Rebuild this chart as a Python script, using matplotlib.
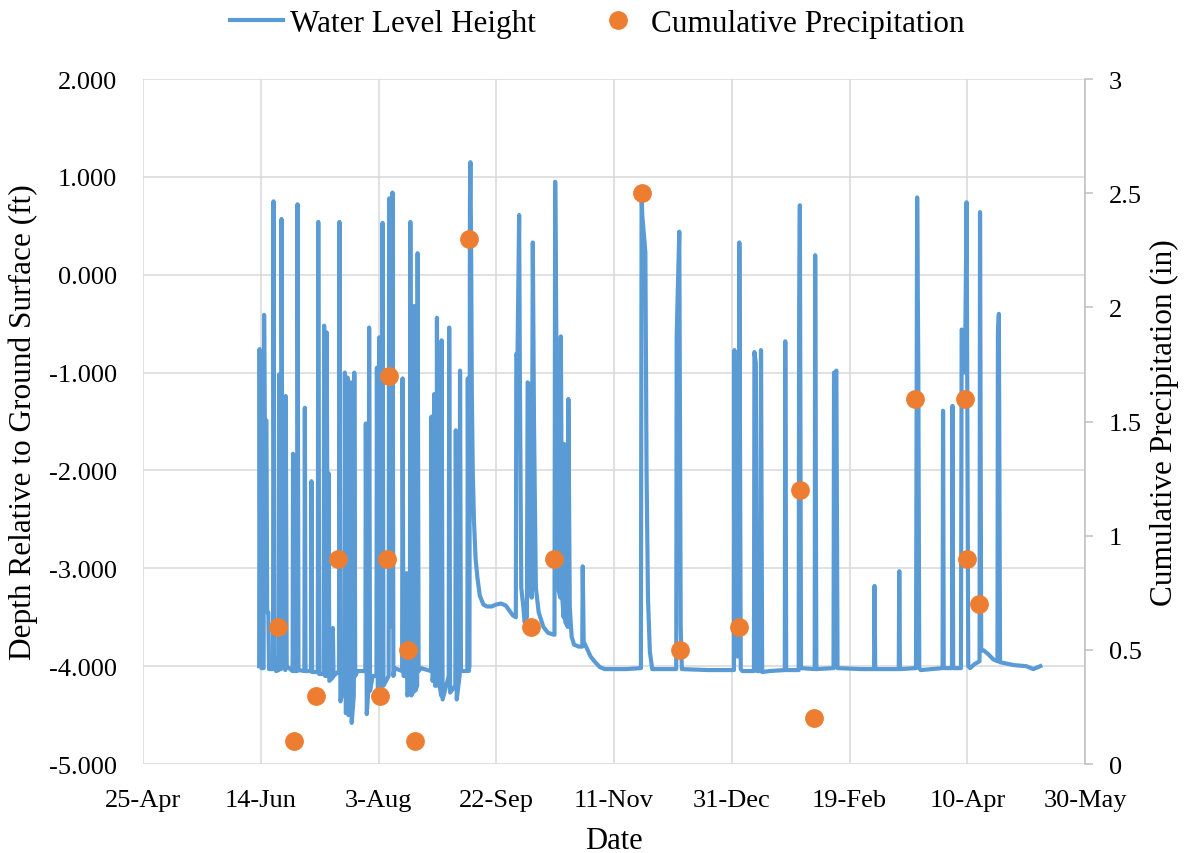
import numpy as np
import matplotlib
matplotlib.use('Agg')
import matplotlib.pyplot as plt
from matplotlib.lines import Line2D

plt.rcParams['font.family'] = ['Liberation Serif', 'DejaVu Serif']
plt.rcParams['axes.unicode_minus'] = False

# days counted from 25-Apr
tick_days = [0, 50, 100, 150, 200, 250, 300, 350, 400]
tick_labels = ['25-Apr', '14-Jun', '3-Aug', '22-Sep', '11-Nov', '31-Dec', '19-Feb', '10-Apr', '30-May']

# water level (ft relative to ground surface)
wl_day = [49.3, 49.5, 49.8, 50.3, 51.2, 51.4, 51.7, 52.4, 52.7, 53.2, 53.5, 55.2, 55.4, 55.8, 56.5,
          57.6, 57.8, 58.2, 58.6, 58.8, 59.3, 60.4, 60.6, 61.0, 63.5, 63.7, 64.0, 65.4, 65.6, 66.0,
          68.5, 68.7, 69.0, 71.3, 71.5, 71.8, 74.2, 74.4, 74.8, 76.7, 76.9, 77.3, 77.8, 78.0, 78.4,
          78.8, 79.1, 80.4, 80.6, 80.9, 83.2, 83.4, 83.8, 85.5, 85.7, 86.1, 86.6, 86.8, 87.2, 88.0,
          88.2, 88.6, 89.5, 89.7, 90.1, 91.0, 94.4, 94.6, 95.0, 95.8, 96.0, 96.4, 97.5, 99.1, 99.3,
          99.7, 100.1, 100.3, 100.7, 101.5, 101.7, 102.1, 104.3, 104.5, 104.9, 105.7, 105.9, 106.3, 106.8,
          110.0, 110.2, 110.6, 111.7, 111.9, 112.2, 113.3, 113.5, 113.9, 115.0, 115.2, 115.6, 116.4, 116.6,
          117.0, 118.0, 122.3, 122.5, 122.9, 123.4, 123.6, 124.0, 124.6, 124.8, 125.3, 126.6, 126.8, 127.2,
          129.8, 130.0, 130.4, 132.6, 132.8, 133.2, 134.4, 134.6, 135.0, 137.7, 137.9, 138.3, 138.6, 138.8,
          139.0, 139.3, 139.6, 140.0, 140.5, 141.2, 142.0, 143.0, 144.5, 146.0, 148.0, 150.0, 152.0, 154.0,
          155.5, 157.0, 158.3, 158.5, 159.0, 159.7, 160.0, 160.6, 161.5, 162.0, 163.0, 163.3, 164.0, 164.5,
          165.0, 165.5, 166.0, 166.8, 168.0, 170.0, 172.0, 174.7, 175.0, 175.5, 176.2, 177.2, 177.4, 178.0,
          178.6, 178.8, 179.3, 180.4, 180.6, 181.2, 182.0, 183.0, 185.0, 186.5, 186.7, 187.1, 188.5, 190.0,
          192.0, 194.0, 196.0, 205.0, 211.4, 211.7, 212.0, 213.3, 213.8, 214.4, 215.2, 216.2, 226.4, 226.6,
          227.0, 227.7, 228.3, 228.8, 240.0, 250.9, 251.1, 251.6, 253.0, 253.2, 253.8, 254.5, 259.4, 259.6,
          260.2, 260.8, 262.2, 262.4, 262.9, 266.0, 272.5, 272.7, 273.1, 278.4, 278.6, 278.9, 279.4, 285.2,
          285.4, 285.9, 293.2, 293.4, 294.0, 294.4, 294.9, 305.0, 310.4, 310.6, 310.9, 320.9, 321.1, 321.4,
          328.2, 328.5, 328.7, 329.2, 329.6, 330.2, 339.5, 339.7, 340.0, 343.5, 343.7, 344.0, 347.3, 347.6,
          348.4, 349.0, 349.7, 350.4, 351.2, 353.0, 355.2, 355.4, 355.9, 357.0, 359.0, 361.0, 362.8, 363.0,
          363.4, 363.9, 366.0, 370.0, 375.0, 378.0, 381.0]
wl_ft = [-4.00, -0.76, -3.90, -4.02, -4.02, -0.41, -1.50, -1.49, -3.45, -3.45, -4.03, -4.03, 0.75, -3.90, -4.05,
         -4.04, -1.02, -4.00, -4.03, 0.57, -3.90, -4.04, -1.24, -4.00, -4.05, -1.83, -4.05, -4.05, 0.72, -4.04,
         -4.05, -1.36, -4.05, -4.05, -2.11, -4.06, -4.06, 0.54, -4.08, -4.08, -0.52, -4.10, -4.10, -0.59, -3.50,
         -2.03, -4.15, -4.12, -3.61, -4.10, -4.05, 0.54, -4.36, -4.20, -1.00, -4.48, -4.40, -1.05, -4.50, -4.40,
         -1.10, -4.58, -4.30, -1.00, -4.10, -4.05, -4.05, -1.52, -4.49, -4.20, -0.54, -4.25, -4.10, -4.10, -0.95,
         -4.36, -4.30, -0.64, -4.30, -4.10, 0.53, -4.20, -4.10, 0.78, -3.50, -3.60, 0.84, -4.10, -4.02,
         -4.05, -1.06, -4.10, -4.10, -3.05, -4.30, -4.20, 0.54, -4.30, -4.25, -0.32, -4.25, -4.20, 0.22,
         -4.05, -4.02, -4.05, -1.45, -4.15, -4.10, -1.22, -4.20, -4.20, -0.44, -4.10, -4.30, -0.67, -4.34,
         -4.10, -0.54, -4.27, -4.20, -1.59, -4.34, -4.10, -0.98, -4.05, -4.05, -1.06, -4.05, -4.00, 0.73,
         1.15, 0.30, -1.20, -2.00, -2.50, -2.90, -3.10, -3.28, -3.37, -3.39, -3.39, -3.37, -3.36, -3.38,
         -3.43, -3.48, -3.50, -0.81, -0.85, 0.61, -1.00, -3.20, -3.40, -3.55, -3.50, -1.10, -1.12, -3.00,
         -3.30, 0.33, -1.50, -3.20, -3.45, -3.60, -3.66, -3.68, 0.95, -0.67, -3.20, -3.30, -0.63, -3.30,
         -3.50, -1.73, -3.55, -3.60, -1.27, -3.40, -3.70, -3.78, -3.80, -3.80, -2.98, -3.75, -3.82, -3.90,
         -3.96, -4.01, -4.03, -4.03, -4.02, 0.84, 0.60, 0.23, -2.00, -3.30, -3.85, -4.03, -4.03, -0.63,
         -0.22, 0.44, -3.60, -4.03, -4.04, -4.04, -0.77, -3.90, -3.90, 0.33, -4.03, -4.05, -4.05, -0.79,
         -0.90, -4.05, -4.05, -0.77, -4.06, -4.05, -4.04, -0.68, -4.04, -4.04, -0.30, 0.71, -4.02, -4.03,
         0.20, -4.03, -4.02, -1.00, -1.02, -0.98, -4.02, -4.03, -4.03, -3.18, -4.03, -4.03, -3.03, -4.03,
         -4.02, -0.98, 0.79, -0.98, -4.02, -4.04, -4.02, -1.39, -4.02, -4.02, -1.34, -4.02, -4.02, -0.56,
         -0.60, -1.00, 0.74, -4.00, -4.02, -3.98, -3.95, 0.64, -3.84, -3.84, -3.88, -3.93, -3.95, -0.61,
         -0.40, -3.96, -3.97, -3.99, -4.00, -4.03, -4.00]

# cumulative precipitation (in)
pr_day = [57.3, 64.1, 73.5, 82.8, 100.6, 103.6, 104.5, 112.5, 115.5, 138.4, 164.8, 174.5,
          211.9, 228.0, 253.1, 279.0, 284.9, 327.8, 349.0, 349.9, 355.0]
pr_in = [0.6, 0.1, 0.3, 0.9, 0.3, 0.9, 1.7, 0.5, 0.1, 2.3, 0.6, 0.9,
         2.5, 0.5, 0.6, 1.2, 0.2, 1.6, 1.6, 0.9, 0.7]

left_ticks = [2, 1, 0, -1, -2, -3, -4, -5]
right_ticks = [0, 0.5, 1, 1.5, 2, 2.5, 3]

blue = '#5B9BD5'
orange = '#ED7D31'
grid = '#D9D9D9'

fig = plt.figure(figsize=(11.95, 8.54), dpi=100)
ax = fig.add_axes([0.1197, 0.1042, 0.7883, 0.8021])
ax2 = ax.twinx()

ax.set_xlim(0, 400)
ax.set_ylim(-5, 2)
ax2.set_ylim(0, 3)

ax.set_xticks(tick_days)
ax.set_xticklabels(tick_labels)
ax.set_yticks(left_ticks)
ax.set_yticklabels(['%.3f' % v for v in left_ticks])
ax2.set_yticks(right_ticks)
ax2.set_yticklabels(['%g' % v for v in right_ticks])

ax.grid(True, color=grid, linewidth=1.1)
ax.set_axisbelow(True)
for s in ['left', 'top', 'bottom', 'right']:
    ax.spines[s].set_visible(False)
for s in ['left', 'top', 'bottom']:
    ax2.spines[s].set_visible(False)
ax2.spines['right'].set_color('#BFBFBF')
ax2.spines['right'].set_linewidth(1.1)

ax.tick_params(axis='x', length=0, pad=18, labelsize=19)
ax.tick_params(axis='y', length=0, pad=19, labelsize=19)
ax2.tick_params(axis='y', length=6, width=1.1, color='#BFBFBF', pad=11, labelsize=19)

ax.plot(wl_day, wl_ft, color=blue, linewidth=3.0, zorder=2)
ax2.plot(pr_day, pr_in, 'o', color=orange, markersize=12.5, zorder=3)

ax.set_xlabel('Date', fontsize=22)
ax.xaxis.set_label_coords(0.5, -0.09)
ax.set_ylabel('Depth Relative to Ground Surface (ft)', fontsize=22.5)
ax.yaxis.set_label_coords(-0.111, 0.5)
ax2.set_ylabel('Cumulative Precipitation (in)', fontsize=22.5)
ax2.yaxis.set_label_coords(1.069, 0.5)

handles = [Line2D([], [], color=blue, linewidth=3),
           Line2D([], [], color=orange, marker='o', linestyle='none', markersize=12.5)]
fig.legend(handles, ['Water Level Height', 'Cumulative Precipitation'],
           loc='center', bbox_to_anchor=(0.5, 0.971), ncol=2, frameon=False,
           fontsize=22.5, handlelength=1.7, handletextpad=0.2, columnspacing=1.8)

fig.savefig('out.png', dpi=100)
